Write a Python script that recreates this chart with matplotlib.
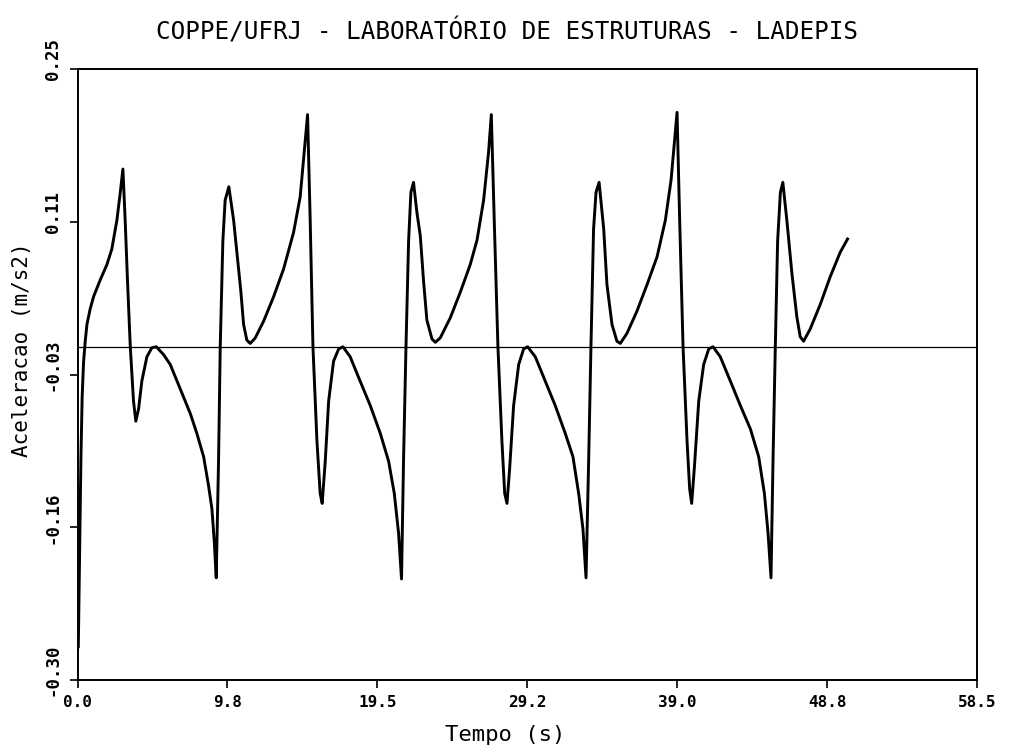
import matplotlib

matplotlib.use("Agg")
import matplotlib.pyplot as plt
from matplotlib.transforms import ScaledTranslation

# acceleration record, time in seconds
tempo = [
    0.05, 0.14, 0.22, 0.30, 0.39, 0.50, 0.61, 0.82, 1.04, 1.47, 1.91, 2.23, 2.56, 2.78, 2.95,
    3.10, 3.25, 3.43, 3.64, 3.79, 3.97, 4.18, 4.51, 4.83, 5.12, 5.59, 6.03, 6.68, 7.33, 7.76,
    8.20, 8.52, 8.74, 8.89, 9.02, 9.17, 9.28, 9.45, 9.60, 9.84, 10.15, 10.47, 10.62, 10.80,
    11.01, 11.23, 11.56, 12.10, 12.75, 13.40, 14.05, 14.48, 14.81, 14.96, 15.13, 15.31, 15.57,
    15.78, 15.91, 16.11, 16.33, 16.65, 16.98, 17.26, 17.73, 18.38, 19.04, 19.69, 20.23, 20.60,
    20.88, 21.07, 21.20, 21.36, 21.53, 21.68, 21.85, 22.07, 22.29, 22.51, 22.72, 23.05, 23.27,
    23.59, 24.24, 24.89, 25.54, 25.98, 26.41, 26.73, 26.91, 27.10, 27.34, 27.60, 27.78, 27.93,
    28.10, 28.36, 28.69, 29.01, 29.27, 29.77, 30.42, 31.07, 31.72, 32.22, 32.59, 32.87, 33.07,
    33.24, 33.39, 33.56, 33.72, 33.92, 34.22, 34.43, 34.76, 35.08, 35.30, 35.73, 36.38, 37.04,
    37.69, 38.23, 38.60, 38.88, 38.99, 39.16, 39.38, 39.64, 39.81, 39.94, 40.11, 40.40, 40.72,
    41.05, 41.33, 41.80, 42.46, 43.11, 43.76, 44.30, 44.67, 44.91, 45.10, 45.23, 45.38, 45.53,
    45.71, 45.87, 46.13, 46.46, 46.78, 47.00, 47.22, 47.65, 48.30, 48.95, 49.60, 50.08,
]
aceleracao = [
    -0.270, -0.180, -0.100, -0.045, -0.014, 0.005, 0.020, 0.034, 0.045, 0.060, 0.074, 0.088,
    0.114, 0.139, 0.160, 0.113, 0.059, 0.000, -0.049, -0.067, -0.056, -0.031, -0.009, -0.001,
    0.000, -0.007, -0.016, -0.038, -0.060, -0.078, -0.099, -0.125, -0.146, -0.175, -0.208,
    -0.103, 0.000, 0.095, 0.132, 0.144, 0.114, 0.070, 0.050, 0.020, 0.006, 0.003, 0.008,
    0.023, 0.045, 0.070, 0.103, 0.135, 0.186, 0.209, 0.114, 0.000, -0.085, -0.132, -0.141,
    -0.103, -0.049, -0.013, -0.002, 0.000, -0.009, -0.031, -0.053, -0.078, -0.103, -0.132,
    -0.168, -0.209, -0.103, 0.000, 0.095, 0.139, 0.148, 0.121, 0.100, 0.058, 0.024, 0.007,
    0.004, 0.008, 0.026, 0.049, 0.074, 0.096, 0.132, 0.175, 0.209, 0.114, 0.000, -0.085,
    -0.132, -0.141, -0.110, -0.053, -0.016, -0.002, 0.000, -0.009, -0.031, -0.053, -0.078,
    -0.099, -0.132, -0.164, -0.208, -0.103, 0.000, 0.106, 0.139, 0.148, 0.106, 0.056, 0.020,
    0.005, 0.003, 0.012, 0.032, 0.056, 0.081, 0.114, 0.150, 0.193, 0.211, 0.114, 0.000,
    -0.085, -0.128, -0.141, -0.110, -0.049, -0.016, -0.002, 0.000, -0.009, -0.031, -0.053,
    -0.074, -0.099, -0.132, -0.168, -0.208, -0.103, 0.000, 0.095, 0.139, 0.148, 0.114, 0.066,
    0.027, 0.009, 0.005, 0.016, 0.038, 0.063, 0.085, 0.097,
]

x_ticks = [0.0, 9.75, 19.5, 29.25, 39.0, 48.75, 58.5]
x_tick_labels = ["0.0", "9.8", "19.5", "29.2", "39.0", "48.8", "58.5"]
y_ticks = [-0.30, -0.1625, -0.025, 0.1125, 0.25]
y_tick_labels = ["-0.30", "-0.16", "-0.03", "0.11", "0.25"]

title = "COPPE/UFRJ - LABORATÓRIO DE ESTRUTURAS - LADEPIS"
x_label = "Tempo (s)"
y_label = "Aceleracao (m/s2)"

plt.rcParams["font.family"] = ["DejaVu Sans Mono", "DejaVu Sans"]

fig = plt.figure(figsize=(10.15, 7.52), dpi=100)
ax = fig.add_axes([0.0764, 0.0957, 0.8862, 0.8125])

ax.axhline(0.0, color="black", linewidth=0.9)
ax.plot(tempo, aceleracao, color="black", linewidth=2.1, solid_joinstyle="round")

ax.set_xlim(0.0, 58.5)
ax.set_ylim(-0.30, 0.25)
ax.set_xticks(x_ticks)
ax.set_xticklabels(x_tick_labels, fontsize=11.5, fontweight="bold")
ax.set_yticks(y_ticks)
ax.set_yticklabels(y_tick_labels, fontsize=12.5, fontweight="bold", rotation=90, va="center")
ax.tick_params(axis="both", direction="out", length=5.5, width=1.2, colors="black")
ax.tick_params(axis="x", pad=5)
ax.tick_params(axis="y", pad=6)
for spine in ax.spines.values():
    spine.set_linewidth(1.4)

# rotated y labels sit a little above their ticks
lift = ScaledTranslation(0, 10 / 100, fig.dpi_scale_trans)
for label in ax.get_yticklabels():
    label.set_transform(label.get_transform() + lift)

fig.text(0.50, 0.958, title, ha="center", va="center", fontsize=17.5)
fig.text(0.4975, 0.0226, x_label, ha="center", va="center", fontsize=16)
fig.text(0.0217, 0.5346, y_label, ha="center", va="center", rotation=90, fontsize=15)

fig.savefig("out.png", dpi=100, facecolor="white")
